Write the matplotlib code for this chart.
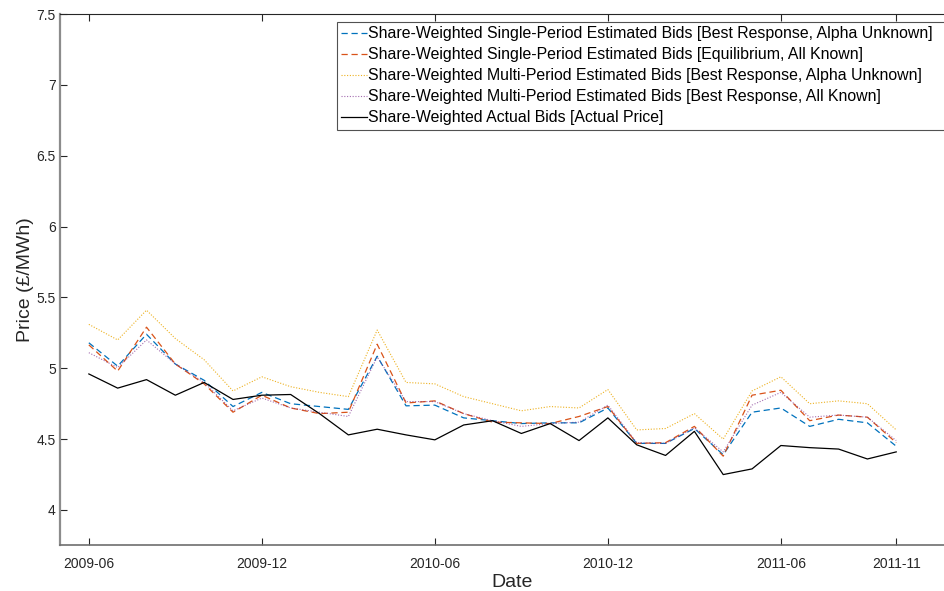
import matplotlib
matplotlib.use("Agg")
import matplotlib.pyplot as plt
import numpy as np

plt.rcParams['font.family'] = ['Liberation Sans', 'DejaVu Sans']

# monthly observations, plotted against their index
tick_pos = [1, 7, 13, 19, 25, 29]
tick_labels = ['2009-06', '2009-12', '2010-06', '2010-12', '2011-06', '2011-11']

sp_br_alpha = [5.18, 5.015, 5.24, 5.03, 4.915, 4.73, 4.83, 4.75, 4.73, 4.71,
               5.085, 4.735, 4.74, 4.65, 4.63, 4.61, 4.615, 4.615, 4.72, 4.47,
               4.47, 4.575, 4.39, 4.69, 4.72, 4.59, 4.64, 4.615, 4.45]
sp_eq_known = [5.165, 4.98, 5.29, 5.03, 4.89, 4.69, 4.81, 4.72, 4.68, 4.69,
               5.17, 4.755, 4.77, 4.68, 4.62, 4.615, 4.61, 4.66, 4.73, 4.47,
               4.475, 4.59, 4.38, 4.81, 4.845, 4.63, 4.67, 4.655, 4.475]
mp_br_alpha = [5.31, 5.20, 5.41, 5.21, 5.06, 4.84, 4.94, 4.87, 4.83, 4.80,
               5.27, 4.90, 4.89, 4.80, 4.75, 4.70, 4.73, 4.72, 4.85, 4.565,
               4.575, 4.68, 4.50, 4.84, 4.94, 4.75, 4.77, 4.75, 4.565]
mp_br_known = [5.11, 5.005, 5.20, 5.03, 4.90, 4.70, 4.79, 4.72, 4.69, 4.66,
               5.08, 4.765, 4.765, 4.68, 4.63, 4.59, 4.61, 4.62, 4.74, 4.475,
               4.47, 4.58, 4.41, 4.74, 4.83, 4.655, 4.67, 4.655, 4.49]
actual = [4.96, 4.86, 4.92, 4.81, 4.90, 4.78, 4.81, 4.815, 4.68, 4.53,
          4.57, 4.53, 4.495, 4.60, 4.63, 4.54, 4.61, 4.49, 4.65, 4.46,
          4.385, 4.555, 4.25, 4.29, 4.455, 4.44, 4.43, 4.36, 4.41]

x = np.arange(1, len(actual) + 1)

W, H = 944, 591
x_right = 965  # axes box runs past the right edge of the figure
fig = plt.figure(figsize=(W / 100, H / 100), dpi=100)
ax = fig.add_axes([60 / W, 1 - 545 / H, (x_right - 60) / W, (545 - 14) / H])

ax.plot(x, sp_br_alpha, color='#0072BD', lw=0.9, dashes=(5, 3),
        label='Share-Weighted Single-Period Estimated Bids [Best Response, Alpha Unknown]')
ax.plot(x, sp_eq_known, color='#D95319', lw=0.9, dashes=(5, 3),
        label='Share-Weighted Single-Period Estimated Bids [Equilibrium, All Known]')
ax.plot(x, mp_br_alpha, color='#EDB120', lw=0.8, dashes=(1, 1.5),
        label='Share-Weighted Multi-Period Estimated Bids [Best Response, Alpha Unknown]')
ax.plot(x, mp_br_known, color='#7E2F8E', lw=0.8, dashes=(1, 1.5), alpha=0.7,
        label='Share-Weighted Multi-Period Estimated Bids [Best Response, All Known]')
ax.plot(x, actual, color='black', lw=0.9,
        label='Share-Weighted Actual Bids [Actual Price]')

ax.set_xlim(0, 1 + (x_right - 89) / 28.83)
ax.set_ylim(3.753, 7.5)
ax.set_xticks(tick_pos)
ax.set_xticklabels(tick_labels)
ax.set_yticks(np.arange(4, 7.51, 0.5))
ax.set_yticklabels(['4', '4.5', '5', '5.5', '6', '6.5', '7', '7.5'])

ax.tick_params(direction='in', length=5, width=0.8, colors='#262626',
               labelsize=10, top=True, right=True)
ax.tick_params(axis='x', pad=9)
ax.tick_params(axis='y', pad=3)
for s in ax.spines.values():
    s.set_color('#262626')
    s.set_linewidth(0.8)
ax.spines['left'].set_color('#8c8c8c')
ax.spines['left'].set_linewidth(1.6)
ax.spines['bottom'].set_color('#6e6e6e')
ax.spines['bottom'].set_linewidth(1.2)

ax.set_xlabel('Date', fontsize=14, color='#262626', labelpad=2)
ax.set_ylabel('Price (£/MWh)', fontsize=14, color='#262626', labelpad=2)

# legend box is stretched so its right edge falls past the figure edge
leg = ax.legend(loc='upper left',
                bbox_to_anchor=(337 / W, 1 - 21.7 / H, (952 - 337) / W, 0),
                bbox_transform=fig.transFigure, mode='expand',
                fontsize=11.4, frameon=True, fancybox=False,
                handlelength=1.6, handletextpad=0.1, borderpad=0.28,
                labelspacing=0.38, borderaxespad=0)
leg.get_frame().set_edgecolor('#262626')
leg.get_frame().set_linewidth(0.8)

fig.savefig('out.png', dpi=100)
